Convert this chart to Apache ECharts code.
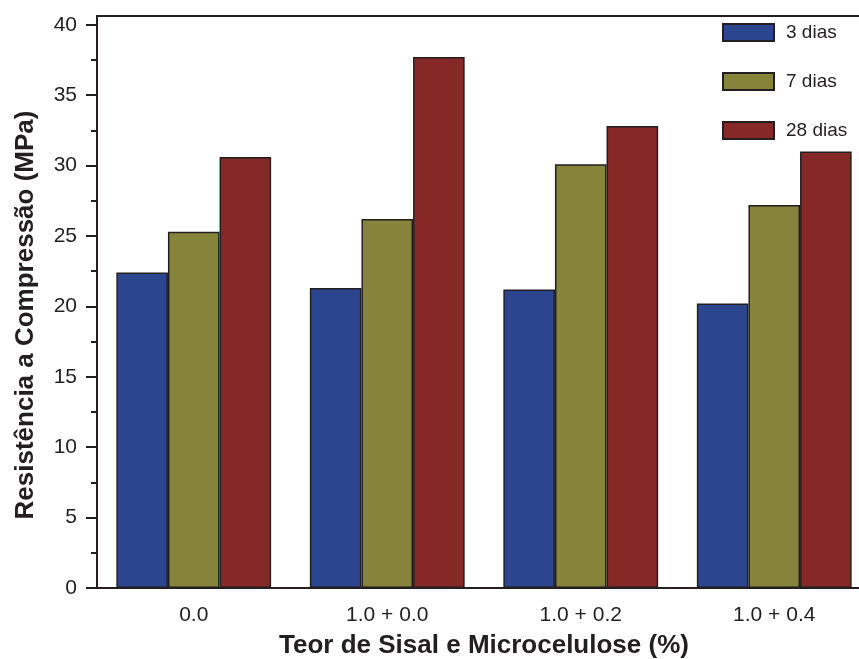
<!DOCTYPE html>
<html>
<head>
<meta charset="utf-8">
<script src="https://cdn.jsdelivr.net/npm/echarts@6/dist/echarts.min.js"></script>
<style>
  html, body { margin: 0; padding: 0; background: #fff; }
  #chart { width: 859px; height: 659px; }
</style>
</head>
<body>
<div id="chart"></div>
<script>
// dados
var categorias = ["0.0", "1.0 + 0.0", "1.0 + 0.2", "1.0 + 0.4"];
var dias3 = [22.4, 21.3, 21.2, 20.2];
var dias7 = [25.3, 26.2, 30.1, 27.2];
var dias28 = [30.6, 37.7, 32.8, 31.0];
var ticksMaiores = [0, 5, 10, 15, 20, 25, 30, 35, 40];
var ticksMenores = [2.5, 7.5, 12.5, 17.5, 22.5, 27.5, 32.5, 37.5];

var preto = "#231f20";
var fonte = "'Liberation Sans', Arial, Helvetica, sans-serif";

var chart = echarts.init(document.getElementById("chart"));

function barra(nome, dados, cor) {
  return {
    name: nome,
    type: "bar",
    data: dados,
    barGap: "0%",
    barCategoryGap: "20%",
    itemStyle: { color: cor, borderColor: preto, borderWidth: 1.5 }
  };
}

var option = {
  animation: false,
  backgroundColor: "#fff",
  textStyle: { fontFamily: fonte, color: preto },
  // o gráfico original é cortado à direita: a grade passa da borda
  grid: { left: 97, top: 16, bottom: 71, width: 774, outerBoundsMode: "none", containLabel: false },
  legend: {
    orient: "vertical",
    left: 722,
    top: 23,
    padding: 0,
    icon: "rect",
    itemWidth: 51,
    itemHeight: 17,
    itemGap: 30,
    textStyle: { fontSize: 19, color: preto, fontFamily: fonte, padding: [0, 0, 0, 7] },
    data: ["3 dias", "7 dias", "28 dias"]
  },
  xAxis: [
    {
      type: "category",
      data: categorias,
      position: "bottom",
      name: "Teor de Sisal e Microcelulose (%)",
      nameLocation: "middle",
      nameGap: 45,
      nameTextStyle: { fontSize: 26, fontWeight: "bold", color: preto, fontFamily: fonte },
      axisLine: { onZero: false, lineStyle: { color: preto, width: 2 } },
      axisTick: { alignWithLabel: true, length: 11, lineStyle: { color: preto, width: 2 } },
      axisLabel: { fontSize: 21, color: preto, margin: 17, fontFamily: fonte }
    },
    {
      type: "category",
      data: categorias,
      position: "bottom",
      axisLine: { show: false, onZero: false },
      axisTick: { length: 6, lineStyle: { color: preto, width: 2 } },
      axisLabel: { show: false }
    },
    {
      type: "category",
      data: categorias,
      position: "top",
      axisLine: { onZero: false, lineStyle: { color: preto, width: 2 } },
      axisTick: { inside: true, length: 3, lineStyle: { color: "#999", width: 1 } },
      axisLabel: { show: false }
    }
  ],
  yAxis: [
    {
      type: "value",
      min: 0,
      max: 40.62,
      position: "left",
      name: "Resistência a Compressão (MPa)",
      nameLocation: "middle",
      nameGap: 58,
      nameTextStyle: { fontSize: 26, fontWeight: "bold", color: preto, fontFamily: fonte, padding: [0, 26, 0, 0] },
      axisLine: { show: true, lineStyle: { color: preto, width: 2 } },
      axisTick: { show: true, customValues: ticksMaiores, length: 11, lineStyle: { color: preto, width: 2 } },
      axisLabel: { customValues: ticksMaiores, fontSize: 21, color: preto, margin: 20, fontFamily: fonte },
      splitLine: { show: false }
    },
    {
      type: "value",
      min: 0,
      max: 40.62,
      position: "left",
      axisLine: { show: false },
      axisTick: { show: true, customValues: ticksMenores, length: 6, lineStyle: { color: preto, width: 2 } },
      axisLabel: { show: false },
      splitLine: { show: false }
    }
  ],
  series: [
    barra("3 dias", dias3, "#2b458f"),
    barra("7 dias", dias7, "#86833a"),
    barra("28 dias", dias28, "#852826")
  ]
};

option && chart.setOption(option);
</script>
</body>
</html>
